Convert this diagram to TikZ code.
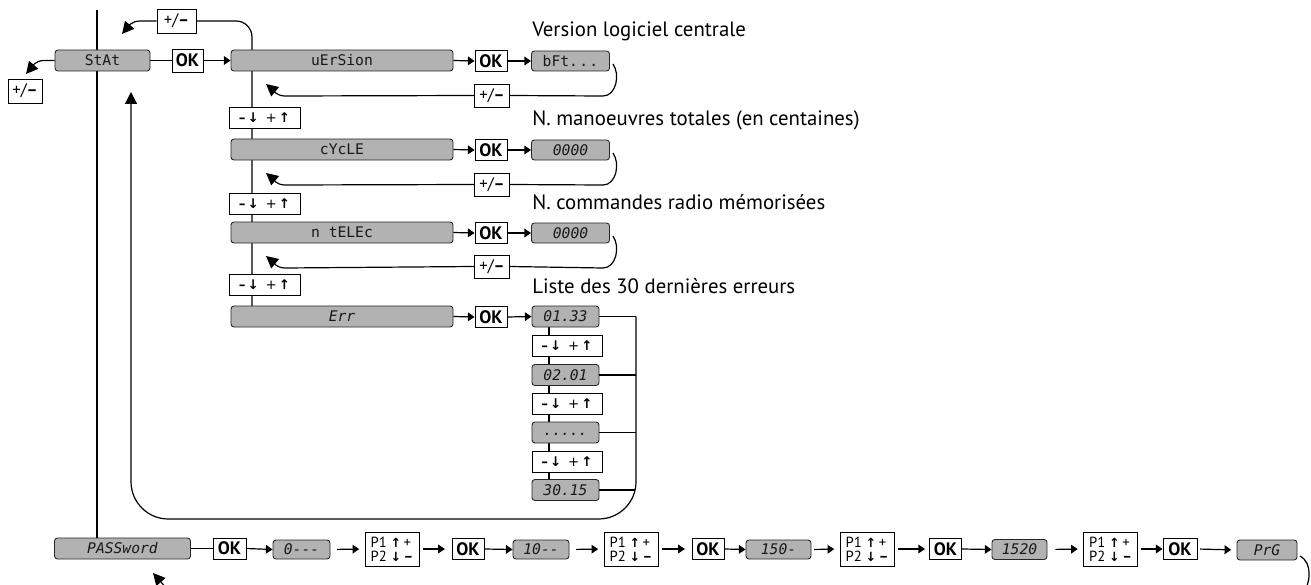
\documentclass[tikz,border=0pt]{standalone}
\usepackage{fontspec}
\setmainfont{PT Sans}
\newfontfamily\symf{DejaVu Sans}
\newfontfamily\lcdf{DejaVu Sans Mono}
\usetikzlibrary{arrows.meta,backgrounds,calc}
\tikzset{
  wh/.style 2 args={minimum width=#1*0.75pt, minimum height=#2*0.75pt},
  base/.style={inner sep=0pt, line width=0.65pt},
  lcd/.style={base, draw=black!85, fill=black!30, rounded corners=2.2pt, text=black!90,
     font=\lcdf\fontsize{11}{11}\selectfont, wh={222}{21}},
  lcdi/.style={lcd, font=\lcdf\itshape\fontsize{11}{11}\selectfont},
  okb/.style={base, draw=black, fill=white, font=\bfseries\fontsize{13.5}{14}\selectfont, wh={32}{21}},
  pmb/.style={base, draw=black, fill=white, font=\fontsize{12.5}{13}\selectfont, wh={35}{23}},
  udb/.style={base, draw=black, fill=white, font=\symf\fontsize{10}{11}\selectfont, wh={71}{21}},
  pb/.style={base, draw=black, fill=white, align=left, font=\fontsize{11}{10.5}\selectfont, wh={54}{34}},
  lbl/.style={anchor=base west, inner sep=0pt, font=\fontsize{15.6}{18}\selectfont},
  ln/.style={line width=0.9pt},
  arr/.style={ln, -{Triangle[length=5pt,width=6.5pt]}},
  bigarr/.style={ln, -{Triangle[length=9pt,width=9pt]}},
}
\newcommand{\pmtext}{+/{\bfseries –}}
\newcommand{\udtext}{{\bfseries –}\,{\bfseries ↓}\enspace+\,{\bfseries ↑}}
\newcommand{\ptext}{P1 {\symf\bfseries\fontsize{9.5}{10}\selectfont ↑}\,+\\P2 {\symf\bfseries\fontsize{9.5}{10}\selectfont ↓}\,{\bfseries –}}
\begin{document}
\begin{tikzpicture}[x=0.75pt,y=-0.75pt]
\useasboundingbox (0,0) rectangle (1311,585);
\clip (0,0) rectangle (1311,585);

% --- STAt column
\node[lcd, wh={95}{21}] (stat) at (102.5,60.5) {StAt};
\node[okb, wh={31}{23}] (ok0) at (187.5,60.5) {OK};
\node[pmb, wh={39}{24}] (pmtop) at (176.5,21) {\pmtext};
\node[pmb, wh={34}{24}] (pmleft) at (25,91) {\pmtext};

% --- rows
\node[lcd] (ver) at (342,60.5) {uErSion};
\node[okb] (okv) at (491,61) {OK};
\node[lcd, wh={78}{20}] (bft) at (570.5,61) {bFt.\hspace{1pt}.\hspace{1pt}.};
\node[pmb] (pmv) at (492,95.5) {\pmtext};
\node[udb] (ud1) at (264.5,118) {\udtext};

\node[lcd] (cyc) at (342,149.5) {cYcLE};
\node[okb] (okc) at (491,150) {OK};
\node[lcdi, wh={78}{20}] (cnt) at (570.5,150) {0000};
\node[pmb] (pmc) at (492,184.5) {\pmtext};
\node[udb] (ud2) at (264.5,203.5) {\udtext};

\node[lcd] (tel) at (342,232.5) {n tELEc};
\node[okb] (okn) at (491,233) {OK};
\node[lcdi, wh={78}{20}] (ntl) at (570.5,233) {0000};
\node[pmb] (pmn) at (492,266.5) {\pmtext};
\node[udb] (ud3) at (264.5,285) {\udtext};

\node[lcdi] (err) at (342,316.5) {Err};
\node[okb] (oke) at (491,317) {OK};
\node[lcdi, wh={67}{21}] (e1) at (565.5,316.5) {01.33};
\node[udb, wh={70}{21}] (u1) at (567,345.5) {\udtext};
\node[lcdi, wh={67}{21}] (e2) at (565.5,375) {02.01};
\node[udb, wh={70}{21}] (u2) at (567,403.5) {\udtext};
\node[lcdi, wh={67}{21}] (e3) at (565.5,432.5) {\raisebox{-4pt}{.....}};
\node[udb, wh={70}{21}] (u3) at (567,462) {\udtext};
\node[lcdi, wh={67}{21}] (e4) at (565.5,490) {30.15};

% --- labels
\node[lbl] (l1) at (532,37) {Version logiciel centrale};
\node[lbl] (l2) at (532,126) {N. manoeuvres totales (en centaines)};
\node[lbl] (l3) at (532,209) {N. commandes radio mémorisées};
\node[lbl] (l4) at (532,293) {Liste des 30 dernières erreurs};

% --- password row
\node[lcdi, wh={136}{21}] (pass) at (122.5,548.5) {PASSword};
\node[okb, wh={33}{21}] (okp1) at (229.5,548.5) {OK};
\node[lcdi, wh={57}{19}] (v1) at (301.5,549.5) {0---};
\node[pb] (p1) at (392,549) {\ptext};
\node[okb] (okp2) at (468,549) {OK};
\node[lcdi, wh={56}{19}] (v2) at (541,549.5) {10--};
\node[pb] (p2) at (631,549) {\ptext};
\node[okb] (okp3) at (708,549) {OK};
\node[lcdi, wh={65}{19}] (v3) at (778.5,549.5) {150-};
\node[pb] (p3) at (867,549) {\ptext};
\node[okb] (okp4) at (945.5,549) {OK};
\node[lcdi, wh={55}{20}] (v4) at (1019.5,549.5) {1520};
\node[pb] (p4) at (1110.5,549) {\ptext};
\node[okb, wh={34}{21}] (okp5) at (1180,549) {OK};
\node[lcdi, wh={60}{20}] (v5) at (1267,550) {PrG};

% --- background lines
\begin{pgfonlayer}{background}
\draw[ln] (97,10) -- (97,538);
\draw[ln, rounded corners=12pt] (pmtop.east) -- (252,21) -- (252,306);
\draw[ln] (549,316) -- (549,490);
\end{pgfonlayer}

% --- connectors top
\draw[ln] (stat.east) -- (ok0.west);
\draw[arr] (ok0.east) -- (ver.west);
\draw[bigarr] (stat.west) -- (44,60.5) to[out=180,in=50] (26,74);
\draw[bigarr] (pmtop.west) -- (140,21) to[out=180,in=50] (122,34);

% row 1
\draw[arr] (ver.east) -- (okv.west);
\draw[arr] (okv.east) -- (bft.west);
\draw[ln] (613,64) to[out=-55,in=0] (603,96) -- (pmv.east);
\draw[bigarr] (pmv.west) -- (285,96) to[out=180,in=-40] (266,84);
% row 2
\draw[arr] (cyc.east) -- (okc.west);
\draw[arr] (okc.east) -- (cnt.west);
\draw[ln] (613,153) to[out=-55,in=0] (603,185) -- (pmc.east);
\draw[bigarr] (pmc.west) -- (285,185) to[out=180,in=-40] (266,173);
% row 3
\draw[arr] (tel.east) -- (okn.west);
\draw[arr] (okn.east) -- (ntl.west);
\draw[ln] (613,236) to[out=-55,in=0] (603,268) -- (pmn.east);
\draw[bigarr] (pmn.west) -- (285,268) to[out=180,in=-40] (266,256);
% row 4
\draw[arr] (err.east) -- (oke.west);
\draw[arr] (oke.east) -- (e1.west);
\draw[ln] (e1.east) -- (636,316.5);
\draw[ln] (e2.east) -- (636,375);
\draw[ln] (e3.east) -- (636,432.5);
\draw[ln] (e4.east) -- (635,490);
\draw[bigarr, rounded corners=28pt] (636,316.5) -- (636,519) -- (131,519) -- (131,92);

% --- password row connectors
\draw[ln] (pass.east) -- (okp1.west);
\draw[arr] (okp1.east) -- (v1.west);
\draw[arr, shorten <=5pt, shorten >=4pt] (v1.east) -- (p1.west);
\draw[arr, shorten <=3pt, shorten >=5pt] (p1.east) -- (okp2.west);
\draw[arr] (okp2.east) -- (v2.west);
\draw[arr, shorten <=5pt, shorten >=4pt] (v2.east) -- (p2.west);
\draw[arr, shorten <=3pt, shorten >=5pt] (p2.east) -- (okp3.west);
\draw[arr] (okp3.east) -- (v3.west);
\draw[arr, shorten <=2pt, shorten >=4pt] (v3.east) -- (p3.west);
\draw[arr, shorten <=3pt, shorten >=3pt] (p3.east) -- (okp4.west);
\draw[arr] (okp4.east) -- (v4.west);
\draw[arr, shorten <=6pt, shorten >=4pt] (v4.east) -- (p4.west);
\draw[arr, shorten <=2pt] (p4.east) -- (okp5.west);
\draw[arr, shorten <=2pt, shorten >=4pt] (okp5.east) -- (v5.west);
\draw[ln] (1300,556) to[out=-30,in=90] (1309,574) to[out=-90,in=30] (1301,592);
\draw[bigarr] (168,590) -- (153,573);
\end{tikzpicture}
\end{document}
